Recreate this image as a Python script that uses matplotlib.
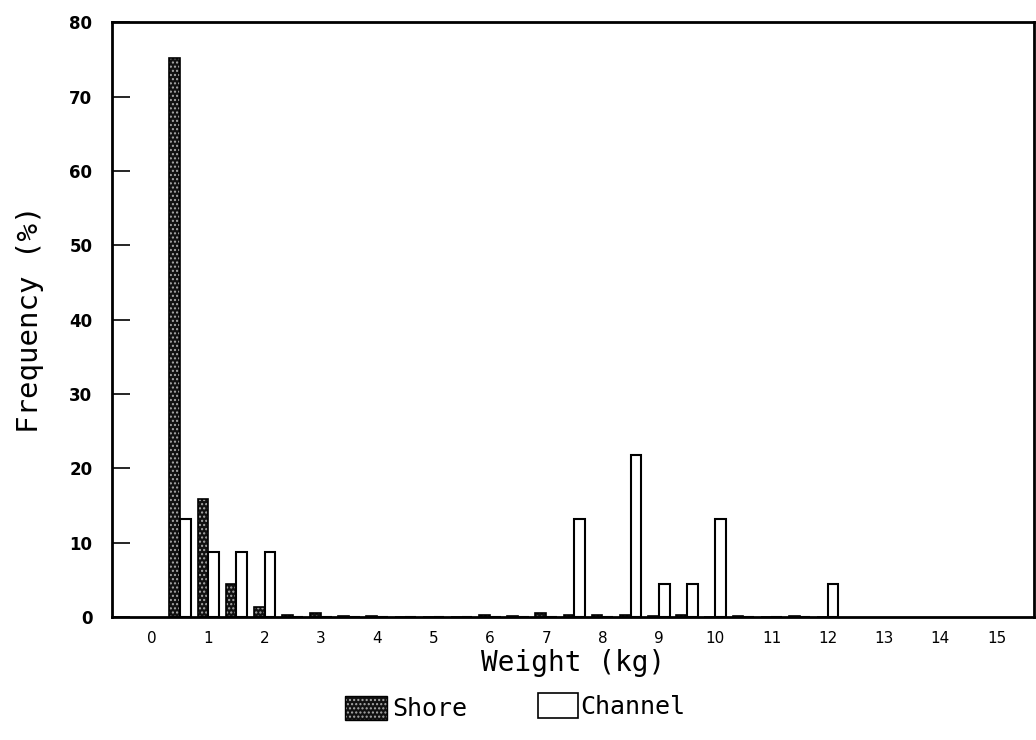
import numpy as np
import matplotlib.pyplot as plt

# weight classes (kg), 0.5 kg steps
bins = [0.5, 1.0, 1.5, 2.0, 2.5, 3.0, 3.5, 4.0, 4.5, 5.0, 5.5, 6.0, 6.5, 7.0,
        7.5, 8.0, 8.5, 9.0, 9.5, 10.0, 10.5, 11.0, 11.5, 12.0]
shore = [75.2, 15.9, 4.4, 1.4, 0.3, 0.6, 0.15, 0.2, 0.05, 0.0, 0.0, 0.3, 0.2, 0.6,
         0.3, 0.3, 0.3, 0.1, 0.3, 0.0, 0.15, 0.0, 0.15, 0.0]
channel = [13.2, 8.7, 8.7, 8.7, 0, 0, 0, 0, 0, 0, 0, 0, 0, 0,
           13.2, 0, 21.8, 4.4, 4.4, 13.2, 0, 0, 0, 4.4]
xticks = list(range(0, 16))
yticks = list(range(0, 81, 10))

mono = 'DejaVu Sans Mono'

fig = plt.figure(figsize=(10.36, 7.4), dpi=100)
ax = fig.add_axes([0.108, 0.166, 0.89, 0.804])

x = np.array(bins)
w = 0.19
# shore bars: dark dotted fill, then black outline
ax.bar(x - w / 2, shore, width=w, color='#111111', edgecolor='#aaaaaa',
       hatch='....', linewidth=0)
ax.bar(x - w / 2, shore, width=w, fill=False, edgecolor='black', linewidth=1.2)
ax.bar(x + w / 2, channel, width=w, color='white', edgecolor='black', linewidth=1.5)

ax.set_xlim(-0.71, 15.66)
ax.set_ylim(0, 80)
ax.set_xticks(xticks)
ax.set_yticks(yticks)
ax.tick_params(axis='x', length=0, pad=10, labelsize=11)
ax.tick_params(axis='y', direction='in', length=13, width=1.2, pad=14, labelsize=12)
for lab in ax.get_yticklabels():
    lab.set_fontweight('bold')
for s in ax.spines.values():
    s.set_linewidth(2)

ax.set_xlabel('Weight (kg)', fontsize=20, family=mono, labelpad=2)
ax.set_ylabel('Frequency (%)', fontsize=21, family=mono, labelpad=18)

# legend below the axes
lax = fig.add_axes([0, 0, 1, 0.08])
lax.set_xlim(0, 1036)
lax.set_ylim(59.2, 0)
lax.axis('off')
lax.add_patch(plt.Rectangle((345, 15), 42, 24, facecolor='#111111',
                            edgecolor='#aaaaaa', hatch='....', linewidth=0))
lax.add_patch(plt.Rectangle((345, 15), 42, 24, fill=False, edgecolor='black', linewidth=1))
lax.text(392, 28, 'Shore', fontsize=18, family=mono, va='center')
lax.add_patch(plt.Rectangle((538, 12), 40, 25, facecolor='white',
                            edgecolor='black', linewidth=1.2))
lax.text(580, 26, 'Channel', fontsize=18, family=mono, va='center')

fig.savefig('out.png', dpi=100)
